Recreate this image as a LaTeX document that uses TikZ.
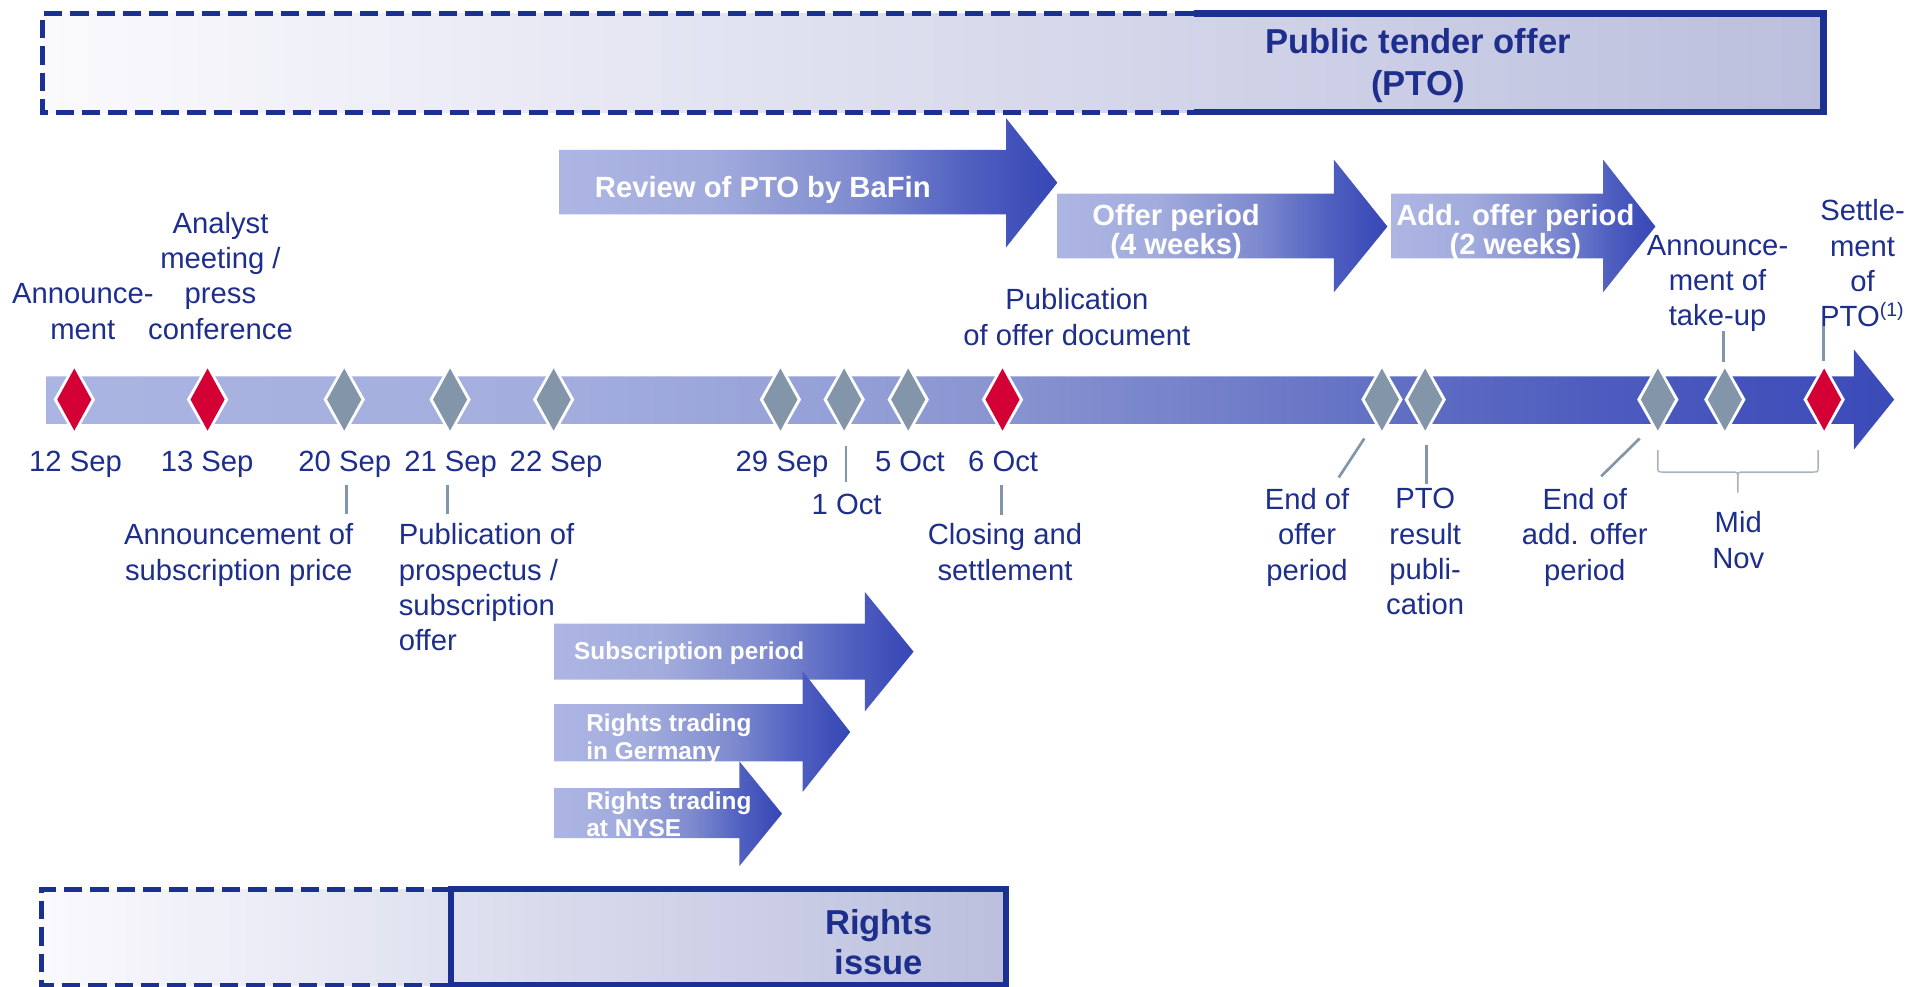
\documentclass[tikz,border=0pt]{standalone}
\usepackage{fontspec}
\setmainfont{Liberation Sans}
\definecolor{navy}{HTML}{1E2E8C}
\definecolor{boxblue}{HTML}{1B3192}
\definecolor{mred}{HTML}{D40035}
\definecolor{mgrey}{HTML}{8396A9}
\definecolor{bracegrey}{HTML}{A8B2BF}
\definecolor{boxL}{HTML}{FAFAFD}
\definecolor{boxR}{HTML}{BBBFDD}
\definecolor{bca}{HTML}{ABB5E2}
\definecolor{bcb}{HTML}{A3ADDE}
\definecolor{bcc}{HTML}{949FD7}
\definecolor{bcd}{HTML}{8893D0}
\definecolor{bce}{HTML}{6674C5}
\definecolor{bcf}{HTML}{4F5DBF}
\definecolor{bcg}{HTML}{3A4AB8}
\definecolor{aca}{HTML}{ADB6E3}
\definecolor{acb}{HTML}{A2ACDD}
\definecolor{acc}{HTML}{7F8BCF}
\definecolor{acd}{HTML}{5060C0}
\definecolor{ace}{HTML}{3646B5}
\pgfdeclarehorizontalshading{barshade}{100bp}{color(0bp)=(bca); color(25bp)=(bca); color(38.9bp)=(bcb); color(46.8bp)=(bcc); color(51.1bp)=(bcd); color(60bp)=(bce); color(66.6bp)=(bcf); color(75bp)=(bcg); color(100bp)=(bcg)}
\pgfdeclarehorizontalshading{arrshade}{100bp}{color(0bp)=(aca); color(25bp)=(aca); color(40bp)=(acb); color(55bp)=(acc); color(66bp)=(acd); color(75bp)=(ace); color(100bp)=(ace)}
\begin{document}
\begin{tikzpicture}[x=0.5pt,y=-0.5pt,
  lbl/.style={font=\fontsize{12}{14.5}\selectfont, text=navy, align=center, inner sep=0pt, anchor=north},
  datelbl/.style={lbl},
  wlbl/.style={font=\bfseries\fontsize{12}{12}\selectfont, text=white, align=center, inner sep=0pt, anchor=north},
  wsmall/.style={font=\bfseries\fontsize{10}{11.5}\selectfont, text=white, align=left, inner sep=0pt, anchor=north west},
  boxtitle/.style={font=\bfseries\fontsize{14.2}{17.2}\selectfont, text=navy, align=center, inner sep=0pt, anchor=north},
  pics/diam/.style={code={
    \path[fill=white] (0,-29.8) -- (17,0) -- (0,29.8) -- (-17,0) -- cycle;
    \path[fill=#1] (0,-25.5) -- (14,0) -- (0,25.5) -- (-14,0) -- cycle;}},
  tick/.style={draw=mgrey, line width=1.1pt},
  dashline/.style={draw=boxblue, line width=2pt, dash pattern=on 7.5pt off 3.3pt},
  solidline/.style={draw=boxblue, line width=2.6pt},
  bracestyle/.style={draw=bracegrey, line width=0.6pt}
]
\useasboundingbox (0,0) rectangle (1568,810);

% ---- top PTO box
\shade[left color=boxL, right color=boxR] (35,11) rectangle (1497,92);
\draw[dashline] (980,11) -- (35,11) -- (35,92) -- (980,92);
\draw[solidline] (980,11) -- (1497,11) -- (1497,92) -- (980,92);
\node[boxtitle] (pto) at (1164,23.3) {Public tender offer\\(PTO)};

% ---- bottom rights issue box
\shade[left color=boxL, right color=boxR] (34,730) rectangle (826,809);
\draw[dashline] (370,730) -- (34,730) -- (34,809) -- (370,809);
\draw[solidline] (370,730) rectangle (826,809);
\node[boxtitle, font=\bfseries\fontsize{14.2}{16.2}\selectfont] (rights) at (721.5,746.5) {Rights\\issue};

% ---- upper block arrows
\shade[shading=arrshade] (459,123) -- (826,123) -- (826,97) -- (868,150) -- (826,203) -- (826,176) -- (459,176) -- cycle;
\node[wlbl, anchor=north west] (review) at (488,144.4) {Review of PTO by BaFin};
\shade[shading=arrshade] (868,159) -- (1095,159) -- (1095,131) -- (1139,186) -- (1095,240) -- (1095,212) -- (868,212) -- cycle;
\node[wlbl] (offer) at (965.5,167.4) {Offer period\\(4 weeks)};
\shade[shading=arrshade] (1142,159) -- (1316,159) -- (1316,131) -- (1359,186) -- (1316,240) -- (1316,212) -- (1142,212) -- cycle;
\node[wlbl] (addoffer) at (1244,167.4) {Add. offer period\\(2 weeks)};

% ---- lower block arrows
\shade[shading=arrshade] (455,512) -- (710,512) -- (710,486) -- (750,535) -- (710,584) -- (710,558) -- (455,558) -- cycle;
\node[wsmall] (subper) at (471,526.8) {Subscription period};
\shade[shading=arrshade] (455,578) -- (659,578) -- (659,551) -- (698,601) -- (659,650) -- (659,625) -- (455,625) -- cycle;
\node[wsmall] (germany) at (481,585.8) {Rights trading\\in Germany};
\shade[shading=arrshade] (455,647) -- (607,647) -- (607,625) -- (642,668) -- (607,711) -- (607,688) -- (455,688) -- cycle;
\node[wsmall, font=\bfseries\fontsize{10}{11}\selectfont] (nyse) at (481,649.8) {Rights trading\\at NYSE};

% ---- timeline bar
\shade[shading=barshade] (38,309) -- (1522,309) -- (1522,287) -- (1555,328) -- (1522,369) -- (1522,348) -- (38,348) -- cycle;

% ---- diamonds (milestones)
\coordinate (d12s) at (61,328);
\coordinate (d13s) at (170.4,328);
\coordinate (d20s) at (282.6,328);
\coordinate (d21s) at (369.5,328);
\coordinate (d22s) at (454.5,328);
\coordinate (d29s) at (640.7,328);
\coordinate (d1o)  at (693,328);
\coordinate (d5o)  at (745.6,328);
\coordinate (d6o)  at (823,328);
\coordinate (dend) at (1134.5,328);
\coordinate (dres) at (1170,328);
\coordinate (dadd) at (1361,328);
\coordinate (dtake) at (1416,328);
\coordinate (dset) at (1497.5,328);
\pic at (d12s) {diam=mred};
\pic at (d13s) {diam=mred};
\pic at (d20s) {diam=mgrey};
\pic at (d21s) {diam=mgrey};
\pic at (d22s) {diam=mgrey};
\pic at (d29s) {diam=mgrey};
\pic at (d1o)  {diam=mgrey};
\pic at (d5o)  {diam=mgrey};
\pic at (d6o)  {diam=mred};
\pic at (dend) {diam=mgrey};
\pic at (dres) {diam=mgrey};
\pic at (dadd) {diam=mgrey};
\pic at (dtake) {diam=mgrey};
\pic at (dset) {diam=mred};

% ---- date labels
\node[datelbl] (l12s) at (62,369.5) {12 Sep};
\node[datelbl] (l13s) at (170,369.5) {13 Sep};
\node[datelbl] (l20s) at (283,369.5) {20 Sep};
\node[datelbl] (l21s) at (370,369.5) {21 Sep};
\node[datelbl] (l22s) at (456.5,369.5) {22 Sep};
\node[datelbl] (l29s) at (642,369.5) {29 Sep};
\node[datelbl] (l1o)  at (695,405.5) {1 Oct};
\node[datelbl] (l5o)  at (747,369.5) {5 Oct};
\node[datelbl] (l6o)  at (823.5,369.5) {6 Oct};

% ---- labels above the bar
\node[lbl] (tann) at (68,232.5) {Announce-\\ment};
\node[lbl] (tanalyst) at (181,173.5) {Analyst\\meeting /\\press\\conference};
\node[lbl] (tpub) at (884,236.5) {Publication\\of offer document};
\node[lbl] (ttake) at (1410,192.5) {Announce-\\ment of\\take-up};
\node[lbl] (tset) at (1529,163.5) {Settle-\\ment\\of\\PTO\textsuperscript{(1)}};

% ---- labels below the bar
\node[lbl] (bsub) at (196,429.5) {Announcement of\\subscription price};
\node[lbl, align=left, anchor=north west] (bprosp) at (327,429.5) {Publication of\\prospectus /\\subscription\\offer};
\node[lbl] (bclose) at (825,429.5) {Closing and\\settlement};
\node[lbl] (bendoffer) at (1073,400.5) {End of\\offer\\period};
\node[lbl] (bres) at (1170,400.5) {PTO\\result\\publi-\\cation};
\node[lbl] (bendadd) at (1301,400.5) {End of\\add. offer\\period};
\node[lbl] (bmid) at (1427,419.5) {Mid\\Nov};

% ---- tick lines
\coordinate (c20a) at (284.5,398); \coordinate (c20b) at (284.5,422);
\coordinate (c21a) at (367.5,398); \coordinate (c21b) at (367.5,422);
\coordinate (c1oa) at (694.5,366); \coordinate (c1ob) at (694.5,396);
\coordinate (c6oa) at (822,398);   \coordinate (c6ob) at (822,423);
\coordinate (cenda) at (1120,360); \coordinate (cendb) at (1099,392);
\coordinate (cresa) at (1171,365); \coordinate (cresb) at (1171,397);
\coordinate (cadda) at (1346,360); \coordinate (caddb) at (1314.5,391);
\coordinate (ctakea) at (1415,272); \coordinate (ctakeb) at (1415,297);
\coordinate (cseta) at (1497,268); \coordinate (csetb) at (1497,296);
\draw[tick] (c20a) -- (c20b);
\draw[tick] (c21a) -- (c21b);
\draw[tick] (c1oa) -- (c1ob);
\draw[tick] (c6oa) -- (c6ob);
\draw[tick] (cenda) -- (cendb);
\draw[tick] (cresa) -- (cresb);
\draw[tick] (cadda) -- (caddb);
\draw[tick] (ctakea) -- (ctakeb);
\draw[tick] (cseta) -- (csetb);

% ---- Mid Nov brace
\coordinate (bl) at (1361,369.5);
\coordinate (br) at (1492.5,369.5);
\coordinate (bm) at (1426.6,404.5);
\draw[bracestyle] (bl) -- (1361,383.5) .. controls (1361,387.5) .. (1365,387.5) -- (1421.6,387.5) .. controls (1426.6,387.5) .. (1426.6,392.5) -- (bm);
\draw[bracestyle] (br) -- (1492.5,383.5) .. controls (1492.5,387.5) .. (1488.5,387.5) -- (1431.6,387.5) .. controls (1426.6,387.5) .. (1426.6,392.5);
\end{tikzpicture}
\end{document}
